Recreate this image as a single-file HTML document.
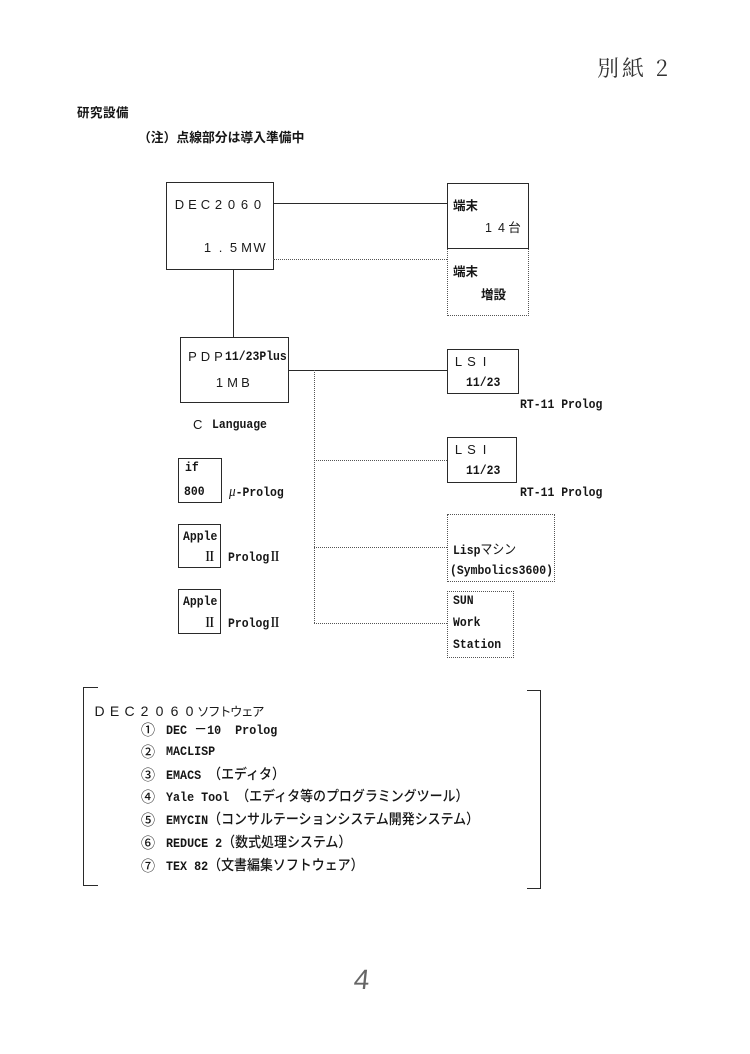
<!DOCTYPE html>
<html>
<head>
<meta charset="utf-8">
<style>
html,body{margin:0;padding:0;background:#fff;}
body{width:750px;height:1054px;position:relative;overflow:hidden;}
.a{position:absolute;white-space:pre;line-height:16px;color:#161616;}
.j{font-family:"Liberation Sans","Noto Sans CJK JP",sans-serif;font-size:12.5px;font-weight:bold;}
.m{font-family:"Liberation Mono","Noto Sans CJK JP",monospace;font-size:13px;font-weight:bold;transform:scaleX(0.88);transform-origin:0 50%;}
.fw{font-family:"Liberation Sans","Noto Sans CJK JP",sans-serif;font-size:12.5px;color:#1a1a1a;}
.fw span{display:inline-block;width:13px;text-align:center;}
.box{position:absolute;border:1px solid #2a2a2a;box-sizing:border-box;}
.dbox{position:absolute;border:1px dotted #555;box-sizing:border-box;}
.h{position:absolute;height:0;border-top:1px solid #2a2a2a;}
.hd{position:absolute;height:0;border-top:1px dotted #555;}
.v{position:absolute;width:0;border-left:1px solid #2a2a2a;}
.vd{position:absolute;width:0;border-left:1px dotted #555;}
.li{font-family:"Liberation Mono","Noto Sans CJK JP",monospace;font-size:13px;font-weight:bold;transform:scaleX(0.9);transform-origin:0 50%;}
.li .k{font-family:"Liberation Sans","Noto Sans CJK JP",sans-serif;font-size:14.4px;font-weight:500;}
.cn{font-family:"Noto Sans CJK JP",sans-serif;font-size:14px;font-weight:500;}
</style>
</head>
<body>

<!-- handwritten header -->
<div class="a" style="left:597px;top:54px;line-height:28px;font-family:'Noto Serif CJK SC','Liberation Serif',serif;font-size:22px;letter-spacing:3px;color:#333;">別紙 2</div>

<div class="a j" style="left:77px;top:105px;letter-spacing:0.5px;">研究設備</div>
<div class="a j" style="left:138px;top:130px;font-size:12.8px;">（注）点線部分は導入準備中</div>

<!-- DEC2060 box -->
<div class="box" style="left:166px;top:182px;width:108px;height:88px;"></div>
<div class="a fw" style="left:173px;top:197px;font-size:13px;"><span>D</span><span>E</span><span>C</span><span>2</span><span>0</span><span>6</span><span>0</span></div>
<div class="a fw" style="left:201px;top:240px;font-size:13px;"><span>1</span><span>.</span><span>5</span><span>M</span><span>W</span></div>

<!-- connections from DEC -->
<div class="h" style="left:273px;top:203px;width:174px;"></div>
<div class="hd" style="left:273px;top:259px;width:174px;"></div>
<div class="v" style="left:233px;top:269px;height:68px;"></div>

<!-- terminal boxes -->
<div class="box" style="left:447px;top:183px;width:82px;height:66px;"></div>
<div class="a j" style="left:453px;top:198px;">端末</div>
<div class="a fw" style="left:482px;top:220px;"><span>1</span><span>4</span><span>台</span></div>

<div class="dbox" style="left:447px;top:249px;width:82px;height:67px;border-top:none;"></div>
<div class="a j" style="left:453px;top:264px;">端末</div>
<div class="a j" style="left:481px;top:287px;">増設</div>

<!-- PDP box -->
<div class="box" style="left:180px;top:337px;width:109px;height:66px;"></div>
<div class="a fw" style="left:186px;top:349px;font-size:13px;"><span>P</span><span>D</span><span>P</span></div>
<div class="a m" style="left:225px;top:349px;">11/23Plus</div>
<div class="a fw" style="left:213px;top:375px;font-size:13px;"><span>1</span><span>M</span><span>B</span></div>

<div class="h" style="left:288px;top:370px;width:159px;"></div>
<div class="vd" style="left:314px;top:370px;height:253px;"></div>

<div class="a" style="left:193px;top:417px;font-family:'Liberation Sans',sans-serif;font-size:13px;">C</div>
<div class="a m" style="left:212px;top:417px;">Language</div>

<!-- LSI 1 -->
<div class="box" style="left:447px;top:349px;width:72px;height:45px;"></div>
<div class="a fw" style="left:452px;top:354px;font-size:13px;"><span>L</span><span>S</span><span>I</span></div>
<div class="a m" style="left:466px;top:375px;">11/23</div>
<div class="a m" style="left:520px;top:397px;">RT-11 Prolog</div>

<!-- LSI 2 -->
<div class="hd" style="left:314px;top:460px;width:133px;"></div>
<div class="box" style="left:447px;top:437px;width:70px;height:46px;"></div>
<div class="a fw" style="left:452px;top:442px;font-size:13px;"><span>L</span><span>S</span><span>I</span></div>
<div class="a m" style="left:466px;top:463px;">11/23</div>
<div class="a m" style="left:520px;top:485px;">RT-11 Prolog</div>

<!-- if800 -->
<div class="box" style="left:178px;top:458px;width:44px;height:45px;"></div>
<div class="a m" style="left:185px;top:460px;">if</div>
<div class="a m" style="left:184px;top:484px;">800</div>
<div class="a m" style="left:229px;top:484px;"><span style="font-family:'Liberation Serif',serif;font-style:italic;font-size:15px;font-weight:normal;">μ</span>-Prolog</div>

<!-- Apple 1 -->
<div class="box" style="left:178px;top:524px;width:43px;height:44px;"></div>
<div class="a m" style="left:183px;top:529px;">Apple</div>
<div class="a m" style="left:204px;top:549px;font-family:'Liberation Serif','Noto Serif CJK SC',serif;">Ⅱ</div>
<div class="a m" style="left:228px;top:549px;">Prolog<span style="font-family:'Liberation Serif','Noto Serif CJK SC',serif;">Ⅱ</span></div>

<!-- Apple 2 -->
<div class="box" style="left:178px;top:589px;width:43px;height:45px;"></div>
<div class="a m" style="left:183px;top:594px;">Apple</div>
<div class="a m" style="left:204px;top:615px;font-family:'Liberation Serif','Noto Serif CJK SC',serif;">Ⅱ</div>
<div class="a m" style="left:228px;top:615px;">Prolog<span style="font-family:'Liberation Serif','Noto Serif CJK SC',serif;">Ⅱ</span></div>

<!-- Lisp machine -->
<div class="hd" style="left:314px;top:547px;width:133px;"></div>
<div class="dbox" style="left:447px;top:514px;width:108px;height:68px;"></div>
<div class="a m" style="left:453px;top:540px;">Lisp<span style="font-family:'Noto Sans CJK JP',sans-serif;font-size:13.5px;font-weight:normal;">マシン</span></div>
<div class="a m" style="left:450px;top:563px;">(Symbolics3600)</div>

<!-- SUN -->
<div class="hd" style="left:314px;top:623px;width:133px;"></div>
<div class="dbox" style="left:447px;top:591px;width:67px;height:67px;"></div>
<div class="a m" style="left:453px;top:593px;">SUN</div>
<div class="a m" style="left:453px;top:615px;">Work</div>
<div class="a m" style="left:453px;top:637px;">Station</div>

<!-- bracket -->
<div class="v" style="left:83px;top:687px;height:198px;"></div>
<div class="h" style="left:83px;top:687px;width:15px;"></div>
<div class="h" style="left:83px;top:885px;width:15px;"></div>
<div class="v" style="left:540px;top:690px;height:198px;"></div>
<div class="h" style="left:527px;top:690px;width:14px;"></div>
<div class="h" style="left:527px;top:888px;width:14px;"></div>

<!-- software list -->
<div class="a" style="left:92px;top:703px;font-family:'Liberation Sans','Noto Sans CJK JP',sans-serif;font-size:14px;color:#1a1a1a;"><span style="display:inline-block;width:15px;text-align:center;">D</span><span style="display:inline-block;width:15px;text-align:center;">E</span><span style="display:inline-block;width:15px;text-align:center;">C</span><span style="display:inline-block;width:15px;text-align:center;">2</span><span style="display:inline-block;width:15px;text-align:center;">0</span><span style="display:inline-block;width:15px;text-align:center;">6</span><span style="display:inline-block;width:15px;text-align:center;">0</span><span style="font-family:'Noto Sans CJK JP',sans-serif;font-size:12.5px;letter-spacing:-1.5px;">ソフトウェア</span></div>

<div class="a cn" style="left:141px;top:722px;">①</div>
<div class="a cn" style="left:141px;top:744px;">②</div>
<div class="a cn" style="left:141px;top:767px;">③</div>
<div class="a cn" style="left:141px;top:789px;">④</div>
<div class="a cn" style="left:141px;top:812px;">⑤</div>
<div class="a cn" style="left:141px;top:835px;">⑥</div>
<div class="a cn" style="left:141px;top:858px;">⑦</div>

<div class="a li" style="left:166px;top:722px;">DEC <span class="k">－</span>10  Prolog</div>
<div class="a li" style="left:166px;top:744px;">MACLISP</div>
<div class="a li" style="left:166px;top:767px;">EMACS <span class="k">（エディタ）</span></div>
<div class="a li" style="left:166px;top:789px;">Yale Tool <span class="k">（エディタ等のプログラミングツール）</span></div>
<div class="a li" style="left:166px;top:812px;">EMYCIN<span class="k">（コンサルテーションシステム開発システム）</span></div>
<div class="a li" style="left:166px;top:835px;">REDUCE 2<span class="k">（数式処理システム）</span></div>
<div class="a li" style="left:166px;top:858px;">TEX 82<span class="k">（文書編集ソフトウェア）</span></div>

<!-- page number (handwritten) -->
<div class="a" style="left:354px;top:965px;line-height:30px;font-family:'Liberation Sans',sans-serif;font-size:28px;color:#666;transform:skewX(-6deg);">4</div>

</body>
</html>
